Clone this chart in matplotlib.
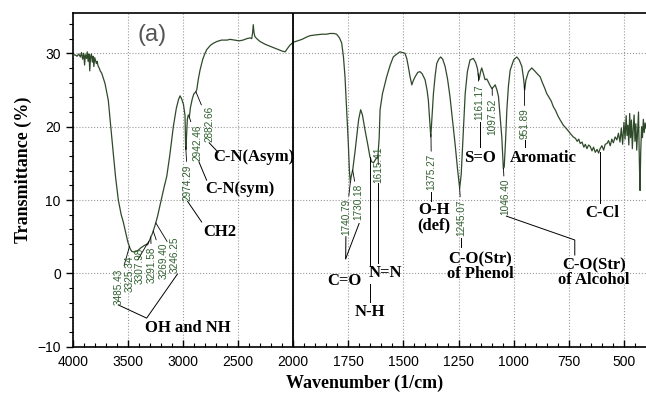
import numpy as np
import matplotlib
matplotlib.use("Agg")
import matplotlib.pyplot as plt

# FTIR spectrum, wavenumber (1/cm) -> transmittance (%)
wn_high = [4000, 3980, 3960, 3945, 3930, 3920, 3910, 3900, 3892, 3885, 3875, 3868,
           3860, 3852, 3845, 3838, 3830, 3822, 3815, 3808, 3800, 3792, 3785, 3778,
           3770, 3760, 3750, 3737, 3707, 3677, 3646, 3632, 3610, 3586, 3560, 3541,
           3520, 3500, 3480, 3465, 3440, 3410, 3380, 3350, 3325, 3310, 3300, 3291,
           3280, 3269, 3258, 3246, 3230, 3200, 3170, 3147, 3120, 3087, 3060, 3040,
           3026, 3012, 2995, 2981, 2976, 2972, 2968, 2960, 2951, 2942, 2932, 2915,
           2900, 2885, 2875, 2860, 2845, 2820, 2800, 2784, 2750, 2720, 2694, 2650,
           2600, 2573, 2530, 2490, 2455, 2420, 2390, 2376, 2368, 2362, 2356, 2348,
           2331, 2300, 2250, 2200, 2150, 2100, 2073, 2050, 2030, 2000]
t_high = [29.7, 29.8, 29.6, 29.9, 29.5, 30.1, 29.2, 30.0, 28.4, 29.8, 29.3, 30.2,
          28.9, 29.9, 27.6, 29.5, 29.9, 28.8, 29.6, 28.2, 29.4, 29.0, 28.6, 28.9,
          28.3, 28.0, 27.6, 27.3, 25.9, 23.6, 18.6, 16.4, 13.0, 10.0, 8.0, 7.0,
          5.6, 4.3, 3.4, 3.0, 2.9, 3.1, 3.5, 3.8, 4.0, 4.3, 4.6, 5.0,
          5.3, 5.8, 6.3, 6.9, 7.8, 9.8, 11.8, 13.2, 16.0, 20.0, 22.5, 23.7,
          24.2, 23.8, 23.0, 21.5, 17.5, 16.9, 18.5, 21.0, 21.6, 21.3, 22.6, 23.8,
          24.5, 24.7, 25.0, 26.5, 27.7, 29.2, 30.0, 30.5, 31.1, 31.4, 31.6, 31.8,
          31.8, 31.9, 31.8, 31.7, 31.8, 32.0, 32.1, 32.0, 32.8, 33.9, 32.9, 32.3,
          32.0, 31.6, 31.2, 30.9, 30.6, 30.3, 30.2, 30.7, 31.1, 31.5]

wn_low = [1980, 1960, 1940, 1924, 1900, 1870, 1850, 1833, 1815, 1803, 1790, 1780,
          1772, 1765, 1758, 1750, 1745, 1741, 1737, 1730, 1720, 1712, 1703, 1694,
          1686, 1674, 1662, 1652, 1644, 1635, 1625, 1616, 1610, 1606, 1595, 1576,
          1560, 1546, 1530, 1516, 1505, 1493, 1485, 1478, 1470, 1462, 1455, 1447,
          1435, 1425, 1415, 1402, 1393, 1387, 1380, 1376, 1370, 1364, 1356, 1349,
          1340, 1331, 1322, 1311, 1300, 1289, 1278, 1266, 1255, 1245, 1238, 1230,
          1220, 1210, 1198, 1183, 1172, 1165, 1157, 1150, 1145, 1138, 1130, 1122,
          1115, 1107, 1099, 1092, 1084, 1076, 1069, 1062, 1054, 1047, 1043, 1037,
          1031, 1024, 1016, 1000, 986, 975, 963, 955, 950, 945, 933, 918,
          905, 890, 880, 870, 860, 850, 840, 830, 820, 810, 800, 789,
          775, 760, 744, 730, 720, 712, 705, 698, 690, 682, 675, 668,
          660, 653, 645, 638, 630, 622, 615, 608, 600, 592, 585, 577,
          570, 562, 555, 548, 540, 532, 525, 518, 512, 506, 500, 495,
          490, 486, 482, 478, 474, 470, 466, 462, 458, 454, 450, 446,
          442, 438, 434, 430, 427, 424, 420, 416, 412, 408, 404, 400]
t_low = [31.7, 31.9, 32.2, 32.4, 32.5, 32.6, 32.6, 32.7, 32.7, 32.6, 32.1, 31.4,
         29.5, 26.8, 22.5, 17.7, 14.0, 12.4, 13.2, 14.1, 16.5, 18.6, 21.0, 22.3,
         21.6, 19.5, 17.6, 15.9, 15.2, 15.1, 15.6, 15.9, 18.5, 22.3, 24.5, 26.8,
         28.4, 29.5, 29.9, 30.2, 30.1, 30.0, 29.3, 28.2, 26.8, 25.7, 26.3, 26.8,
         27.4, 27.5, 27.2, 26.4, 25.0, 23.6, 20.5, 18.6, 21.5, 24.5, 27.0, 28.6,
         29.2, 29.5, 29.2, 28.2, 26.5, 24.1, 21.0, 17.7, 14.3, 11.6, 13.5, 18.5,
         24.5, 27.5, 29.1, 29.3, 28.7, 28.0, 26.4, 27.5, 28.0, 27.3, 26.4, 26.5,
         26.1, 25.6, 25.2, 25.4, 25.7, 25.0, 24.1, 21.5, 18.6, 14.3, 14.5, 18.0,
         22.3, 25.5, 27.7, 29.1, 29.5, 29.1, 28.2, 26.5, 25.0, 26.3, 27.5, 28.0,
         27.6, 27.1, 26.8, 26.0, 25.3, 24.5, 24.0, 23.5, 22.7, 22.2, 21.5, 20.9,
         20.2, 19.7, 19.1, 18.6, 18.4, 18.0, 18.3, 17.7, 17.9, 17.2, 17.6, 17.0,
         17.5, 17.3, 16.7, 17.2, 16.5, 16.9, 16.4, 17.0, 17.4, 16.8, 17.6, 17.7,
         18.1, 17.4, 18.3, 17.8, 18.6, 18.2, 19.1, 17.9, 19.8, 17.6, 20.6, 18.3,
         21.5, 18.8, 20.2, 17.5, 21.8, 18.5, 20.9, 17.0, 19.6, 21.6, 18.0, 20.4,
         16.8, 19.5, 22.0, 15.0, 11.3, 16.5, 20.0, 18.5, 21.0, 19.2, 20.5, 19.8]

peak_labels = ["3485.43", "3325.34", "3307.98", "3291.58", "3269.40", "3246.25",
               "2974.29", "2942.46", "2882.66", "1740.79", "1730.18", "1615.41",
               "1375.27", "1245.07", "1161.17", "1097.52", "1046.40", "951.89"]

wn = np.array(wn_high + wn_low, dtype=float)
tr = np.array(t_high + t_low, dtype=float)


def fwd(x):
    # below 2000 1/cm the chart is stretched by a factor 2
    x = np.asarray(x, dtype=float)
    return np.where(x >= 2000, x, 2000 - 2 * (2000 - x))


def inv(u):
    u = np.asarray(u, dtype=float)
    return np.where(u >= 2000, u, 2000 - (2000 - u) / 2)


plt.rcParams["font.family"] = ["Liberation Sans", "DejaVu Sans"]
serif = ["Liberation Serif", "DejaVu Serif"]
green = "#2f5f2f"

fig = plt.figure(figsize=(6.46, 3.94), dpi=100)
ax = fig.add_axes([0.1125, 0.12, 0.8875, 0.8462])
ax.set_xscale("function", functions=(fwd, inv))

ax.plot(wn, tr, color="#2f4a2a", lw=0.9, zorder=3)
ax.axvline(2000, color="k", lw=1.3, zorder=4)

ax.set_xlim(4000, 400)
ax.set_ylim(-10, 35.45)

ax.set_xticks([4000, 3500, 3000, 2500, 2000, 1750, 1500, 1250, 1000, 750, 500])
minor_x = [v for v in range(3900, 2000, -100) if v % 500] + \
          [v for v in range(1950, 400, -50) if v % 250]
ax.set_xticks(minor_x, minor=True)
ax.set_yticks([-10, 0, 10, 20, 30])
ax.set_yticks([v for v in range(-8, 36, 2) if v % 10], minor=True)
ax.tick_params(axis="x", which="major", direction="in", length=5, width=1, labelsize=10, pad=6)
ax.tick_params(axis="x", which="minor", direction="in", length=3, width=0.8)
ax.tick_params(axis="y", which="major", direction="out", length=5, width=1, labelsize=10)
ax.tick_params(axis="y", which="minor", direction="out", length=3, width=0.8)
ax.grid(True, which="major", ls=":", color="#999999", lw=0.8)
for s in ["top", "left", "bottom"]:
    ax.spines[s].set_linewidth(1.2)
ax.spines["right"].set_visible(False)

# rotated peak labels with leader line to the curve
label_pos = [(3587, -1.8), (3480, 0.0), (3390, 1.0), (3284, 1.2), (3179, 1.7), (3073, 2.6),
             (2957, 12.4), (2867, 17.8), (2762, 20.4), (1758, 7.7), (1705, 9.7), (1614, 14.8),
             (1373, 13.8), (1237, 7.6), (1154, 23.4), (1096, 21.4), (1040, 10.4), (949, 20.4)]
wn_up, tr_up = wn[::-1], tr[::-1]
for lab, (lx, ly) in zip(peak_labels, label_pos):
    pw = float(lab)
    pt = np.interp(pw, wn_up, tr_up)
    ax.annotate(lab, xy=(pw, pt), xytext=(lx, ly), rotation=90, ha="center", va="center",
                fontsize=7.2, color=green, zorder=5,
                arrowprops=dict(arrowstyle="-", color="k", lw=0.6, shrinkA=0, shrinkB=0))

# lines from labels to the group names
segments = [
    ([3587, 3329, 3050], [-4.3, -6.1, -0.1]),
    ([2957, 2830], [9.8, 7.0]),
    ([2855, 2785], [15.2, 12.7]),
    ([2762, 2680], [17.8, 16.5]),
    ([1761, 1762], [5.0, 2.0]),
    ([1701, 1762], [6.8, 2.0]),
    ([1652, 1652], [15.9, 1.0]),
    ([1652, 1652], [-1.5, -3.9]),
    ([1614, 1614], [12.3, 1.4]),
    ([1373, 1373], [11.1, 9.9]),
    ([1237, 1237], [4.8, 3.6]),
    ([1154, 1154], [20.6, 17.2]),
    ([949, 949], [18.2, 17.2]),
    ([1033, 723, 723], [7.8, 4.55, 2.5]),
    ([610, 610], [16.6, 9.6]),
]
for xs, ys in segments:
    ax.plot(xs, ys, color="k", lw=0.7, zorder=4)

groups = [
    ("OH and NH", 2955, -7.45),
    ("CH2", 2664, 5.6),
    ("C-N(sym)", 2483, 11.5),
    ("C-N(Asym)", 2354, 15.8),
    ("C=O", 1768, -1.0),
    ("N=N", 1584, 0.0),
    ("N-H", 1652, -5.2),
    ("O-H\n(def)", 1360, 7.6),
    ("C-O(Str)\nof Phenol", 1150, 0.9),
    ("S=O", 1154, 15.7),
    ("Aromatic", 867, 15.7),
    ("C-O(Str)\nof Alcohol", 636, 0.1),
    ("C-Cl", 597, 8.2),
]
for txt, gx, gy in groups:
    ax.text(gx, gy, txt, family=serif, fontweight="bold", fontsize=12, ha="center",
            va="center", linespacing=0.95, zorder=5)

ax.text(3284, 32.5, "(a)", fontsize=17, color="#555555", ha="center", va="center")

fig.text(0.565, 0.028, "Wavenumber (1/cm)", family=serif, fontweight="bold",
         fontsize=13, ha="center", va="center")
fig.text(0.0356, 0.5685, "Transmittance (%)", family=serif, fontweight="bold",
         fontsize=13, ha="center", va="center", rotation=90)

fig.savefig("out.png", dpi=100)
